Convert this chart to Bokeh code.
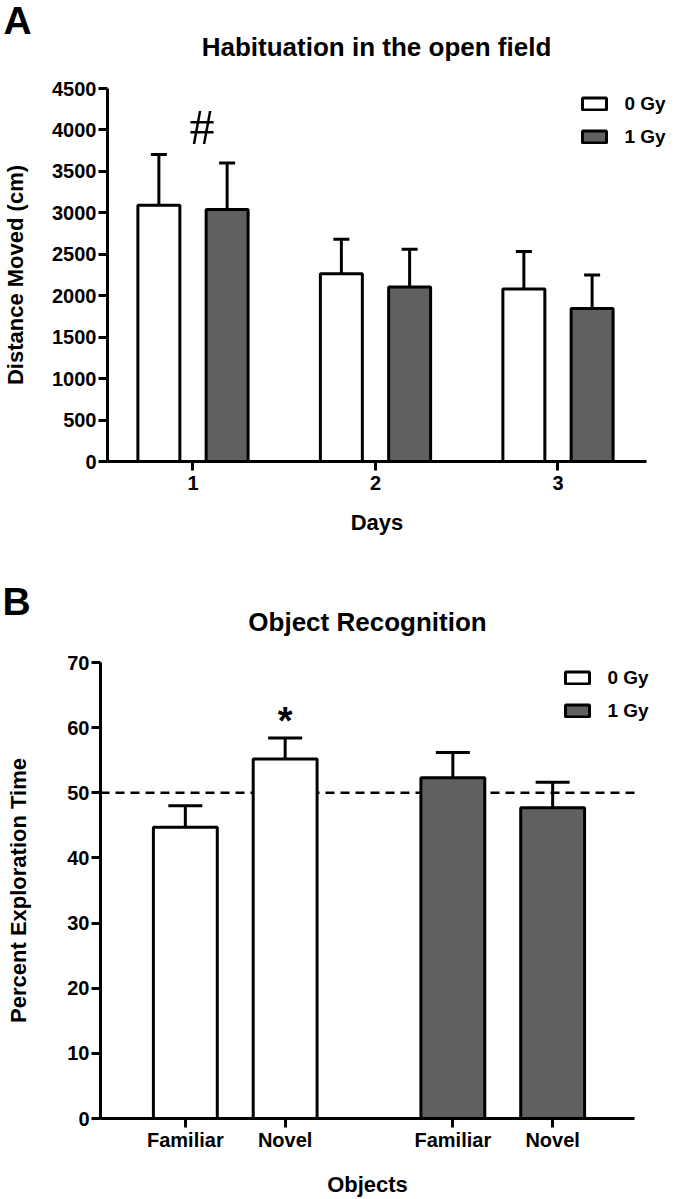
from bokeh.plotting import figure
from bokeh.models import (ColumnDataSource, Whisker, TeeHead, Legend, LegendItem,
                          Label, FixedTicker, Range1d, LinearAxis)
from bokeh.layouts import column
from bokeh.embed import file_html
from bokeh.resources import INLINE
from bokeh.core.properties import value

FONT = "Liberation Sans"

# ---------------- data: panel A (open field habituation) ----------------
days = [1, 2, 3]
day_tick_labels = ["1", "2", "3"]
dose_labels = ["0 Gy", "1 Gy"]
dist_0gy = [3090, 2265, 2080]
dist_0gy_sem = [615, 415, 455]
dist_1gy = [3040, 2105, 1845]
dist_1gy_sem = [560, 455, 405]
a_yticks = [0, 500, 1000, 1500, 2000, 2500, 3000, 3500, 4000, 4500]

# ---------------- data: panel B (object recognition) ----------------
objects = ["Familiar", "Novel"]
expl_0gy = [44.7, 55.2]
expl_0gy_sem = [3.3, 3.2]
expl_1gy = [52.3, 47.7]
expl_1gy_sem = [3.9, 3.9]
chance_level = 50
b_yticks = [0, 10, 20, 30, 40, 50, 60, 70]

titles = ["Habituation in the open field", "Object Recognition"]
panel_letters = ["A", "B"]
axis_titles_a = ["Days", "Distance Moved (cm)"]
axis_titles_b = ["Objects", "Percent Exploration Time"]

GRAY = "#606060"
W = 675


def make_fig(H, box, xlim, ylim):
    """box = (left, right, top, bottom) pixel position of the data area inside the figure."""
    left, right, top, bottom = box
    x0, x1 = xlim
    y0, y1 = ylim
    sx = (right - left) / (x1 - x0)
    sy = (bottom - top) / (y1 - y0)
    p = figure(width=W, height=H, output_backend="svg", toolbar_location=None,
               x_range=Range1d(x0 - left / sx, x1 + (W - right) / sx),
               y_range=Range1d(y0 - (H - bottom) / sy, y1 + top / sy),
               x_axis_type=None, y_axis_type=None, min_border=0)
    p.xgrid.visible = False
    p.ygrid.visible = False
    p.outline_line_color = None
    return p


def style_axis(ax, label_standoff, title_standoff):
    ax.axis_line_width = 3
    ax.axis_line_color = "black"
    ax.major_tick_line_width = 3
    ax.major_tick_line_color = "black"
    ax.major_tick_out = 9
    ax.major_tick_in = 0
    ax.minor_tick_line_color = None
    ax.major_label_text_font = FONT
    ax.major_label_text_font_style = "bold"
    ax.major_label_text_font_size = "20px"
    ax.major_label_text_color = "black"
    ax.axis_label_text_font = FONT
    ax.axis_label_text_font_style = "bold"
    ax.axis_label_text_font_size = "22px"
    ax.axis_label_text_color = "black"
    ax.major_label_standoff = label_standoff
    ax.axis_label_standoff = title_standoff


def add_axes(p, xlim, ylim, xticks, xlabels, yticks, xtitle, ytitle, ysoff, xsoff, xlsoff):
    yax = LinearAxis(fixed_location=xlim[0], bounds=ylim, ticker=FixedTicker(ticks=yticks),
                     axis_label=ytitle)
    style_axis(yax, 2, ysoff)
    p.add_layout(yax, "left")
    xax = LinearAxis(fixed_location=ylim[0], bounds=xlim, ticker=FixedTicker(ticks=xticks),
                     axis_label=xtitle,
                     major_label_overrides={t: s for t, s in zip(xticks, xlabels)})
    style_axis(xax, xlsoff, xsoff)
    p.add_layout(xax, "below")


def make_legend(p, renderers, vx, vy):
    leg = Legend(items=[LegendItem(label=lab, renderers=[r]) for lab, r in zip(dose_labels, renderers)],
                 location=(vx, vy), orientation="vertical",
                 glyph_width=30, glyph_height=15, label_height=15, label_width=50, spacing=11,
                 label_standoff=16, padding=0, margin=0,
                 border_line_color=None, background_fill_alpha=0,
                 label_text_font=FONT, label_text_font_style="bold",
                 label_text_font_size="19px", label_text_color="black")
    p.add_layout(leg, "center")


def add_heading(p, letter, letter_xy, title, title_xy):
    # y values are the vertical centres of the text boxes
    p.add_layout(Label(x=letter_xy[0], y=letter_xy[1], x_units="screen", y_units="screen",
                       text=letter, text_font=FONT, text_font_style="bold", text_font_size="39px",
                       text_color="black", text_align="left", text_baseline="middle"))
    p.add_layout(Label(x=title_xy[0], y=title_xy[1], x_units="screen", y_units="screen",
                       text=title, text_font=FONT, text_font_style="bold", text_font_size="26px",
                       text_color="black", text_align="center", text_baseline="middle"))


# ====================== Panel A ======================
HA = 560
xlim_a = (0.5315, 3.485)
ylim_a = (0, 4500)
pa = make_fig(HA, (107, 646, 88, 461), xlim_a, ylim_a)
add_axes(pa, xlim_a, ylim_a, days, day_tick_labels, a_yticks,
         axis_titles_a[0], axis_titles_a[1], 21, 17, 5)

off_a = 0.187
bw_a = 0.23
xa0 = [d - off_a for d in days]
xa1 = [d + off_a for d in days]
srcA0 = ColumnDataSource(dict(x=xa0, top=dist_0gy, up=[m + s for m, s in zip(dist_0gy, dist_0gy_sem)]))
srcA1 = ColumnDataSource(dict(x=xa1, top=dist_1gy, up=[m + s for m, s in zip(dist_1gy, dist_1gy_sem)]))
for src in (srcA0, srcA1):
    pa.add_layout(Whisker(source=src, base="x", lower="top", upper="up", line_width=3,
                          line_color="black", lower_head=None,
                          upper_head=TeeHead(size=16, line_width=3, line_color="black")))
ra0 = pa.vbar(x="x", top="top", bottom=0, width=bw_a, source=srcA0,
              fill_color="white", line_color="black", line_width=3)
ra1 = pa.vbar(x="x", top="top", bottom=0, width=bw_a, source=srcA1,
              fill_color=GRAY, line_color="black", line_width=3)
make_legend(pa, [ra0, ra1], 578.5, HA - 147.5)

pa.text(x=[1.05], y=[4040], text=["#"], text_font=value("Liberation Serif"),
        text_font_size="50px", text_align="center", text_baseline="middle", text_color="black")

add_heading(pa, panel_letters[0], (3, HA - 20), titles[0], (376, HA - 46))

# ====================== Panel B ======================
HB = 639
TOPB = 560  # page y where figure B starts
gap_b = 0.68
xb0 = [i + 1 for i in range(len(objects))]
xb1 = [i + 1 + len(objects) + gap_b for i in range(len(objects))]
xlim_b = (0.15, 5.5)
ylim_b = (0, 70)

pb = make_fig(HB, (100, 634, 662 - TOPB, 1118 - TOPB), xlim_b, ylim_b)
add_axes(pb, xlim_b, ylim_b, xb0 + xb1, objects + objects, b_yticks,
         axis_titles_b[0], axis_titles_b[1], 33, 18, 1)

# chance-level reference line along the full x-axis extent (drawn behind bars)
pb.segment(x0=[xlim_b[0]], x1=[xlim_b[1]], y0=[chance_level], y1=[chance_level],
           line_color="black", line_width=2.5, line_dash="9 6")

bw_b = 0.64
srcB0 = ColumnDataSource(dict(x=xb0, top=expl_0gy, up=[m + s for m, s in zip(expl_0gy, expl_0gy_sem)]))
srcB1 = ColumnDataSource(dict(x=xb1, top=expl_1gy, up=[m + s for m, s in zip(expl_1gy, expl_1gy_sem)]))
for src in (srcB0, srcB1):
    pb.add_layout(Whisker(source=src, base="x", lower="top", upper="up", line_width=3,
                          line_color="black", lower_head=None,
                          upper_head=TeeHead(size=34, line_width=3, line_color="black")))
rb0 = pb.vbar(x="x", top="top", bottom=0, width=bw_b, source=srcB0,
              fill_color="white", line_color="black", line_width=3)
rb1 = pb.vbar(x="x", top="top", bottom=0, width=bw_b, source=srcB1,
              fill_color=GRAY, line_color="black", line_width=3)
make_legend(pb, [rb0, rb1], 561.5, HB - (721.5 - TOPB))

pb.text(x=[xb0[1]], y=[61], text=["*"], text_font=value(FONT), text_font_style="bold",
        text_font_size="38px", text_align="center", text_baseline="middle", text_color="black")

add_heading(pb, panel_letters[1], (2, HB - (601 - TOPB)), titles[1], (367, HB - (621 - TOPB)))

layout = column(pa, pb, spacing=0)
open("out.html", "w").write(file_html(layout, INLINE))
